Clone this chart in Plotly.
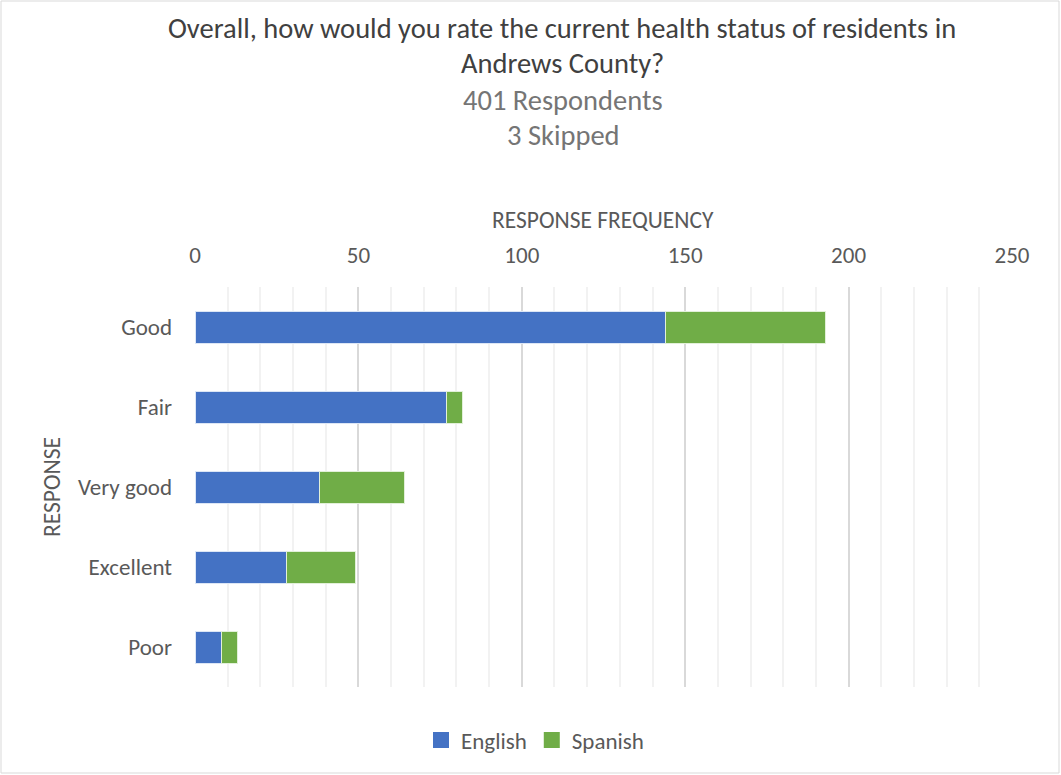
import plotly.graph_objects as go

categories = ["Good", "Fair", "Very good", "Excellent", "Poor"]
english = [144, 77, 38, 28, 8]
spanish = [49, 5, 26, 21, 5]
series_names = ["English", "Spanish"]
series_colors = ["#4472C4", "#70AD47"]
title_lines = ["Overall, how would you rate the current health status of residents in", "Andrews County?"]
subtitle_lines = ["401 Respondents", "3 Skipped"]
x_ticks = [0, 50, 100, 150, 200, 250]

FONT = "Carlito, Lato, sans-serif"
W, H = 1061, 775
L, R, T, B = 195, 49, 287, 88
PW, PH = W - L - R, H - T - B

def px(x):
    return (x - L) / PW

def py(y):
    return (H - B - y) / PH

fig = go.Figure()
for name, vals, col, edge in zip(series_names, [english, spanish], series_colors, ["#DCE6F5", "#E2F0D9"]):
    fig.add_trace(go.Bar(y=categories, x=vals, name=name, orientation="h", showlegend=False,
                         legendgroup=name, marker=dict(color=col, line=dict(color=edge, width=1))))
# legend swatches (square markers, larger like the original)
for name, col in zip(series_names, series_colors):
    fig.add_trace(go.Scatter(x=[None], y=[None], mode="markers", name=name, legendgroup=name,
                             marker=dict(symbol="square", size=17, color=col)))

anns = []
for t, yy in zip(title_lines, [28, 64]):
    anns.append(dict(text=t, x=px(562), y=py(yy), xref="paper", yref="paper", showarrow=False,
                     xanchor="center", yanchor="middle", font=dict(size=28.5, color="#404040", family=FONT)))
for t, yy in zip(subtitle_lines, [100, 135]):
    anns.append(dict(text=t, x=px(563), y=py(yy), xref="paper", yref="paper", showarrow=False,
                     xanchor="center", yanchor="middle", font=dict(size=28.5, color="#757575", family=FONT)))
anns.append(dict(text="RESPONSE FREQUENCY", x=px(603), y=py(220), xref="paper", yref="paper", showarrow=False,
                 xanchor="center", yanchor="middle", font=dict(size=23.5, color="#595959", family=FONT)))
anns.append(dict(text="RESPONSE", x=px(52), y=py(487), xref="paper", yref="paper", showarrow=False,
                 textangle=-90, xanchor="center", yanchor="middle", font=dict(size=23.5, color="#595959", family=FONT)))

fig.update_layout(
    width=W, height=H,
    margin=dict(l=L, r=R, t=T, b=B),
    barmode="stack", bargap=0.6,
    plot_bgcolor="white", paper_bgcolor="white",
    font=dict(family=FONT, color="#595959", size=23),
    showlegend=True,
    legend=dict(orientation="h", x=px(535), xanchor="center", y=py(740), yanchor="middle",
                font=dict(size=23, color="#595959"), traceorder="normal", itemwidth=30),
    annotations=anns,
    shapes=[dict(type="rect", xref="paper", yref="paper", x0=px(1), x1=px(1059), y0=py(1), y1=py(773),
                 line=dict(color="#D9D9D9", width=1), fillcolor="rgba(0,0,0,0)", layer="below")],
    xaxis=dict(side="top", range=[0, 250], tickvals=x_ticks, showgrid=True, gridcolor="#D9D9D9", gridwidth=1.5,
               zeroline=False, showline=False, ticks="", ticklabelstandoff=18,
               tickfont=dict(size=23, color="#595959"),
               minor=dict(dtick=10, showgrid=True, gridcolor="#F2F2F2", gridwidth=1.5)),
    yaxis=dict(categoryorder="array", categoryarray=categories[::-1], showgrid=False, zeroline=False,
               showline=False, ticks="", ticklabelstandoff=22, tickfont=dict(size=23, color="#595959")),
)

fig.write_html("out.html", config={"displayModeBar": False},
               post_script="document.body.style.margin='0';document.body.style.overflow='hidden';")
